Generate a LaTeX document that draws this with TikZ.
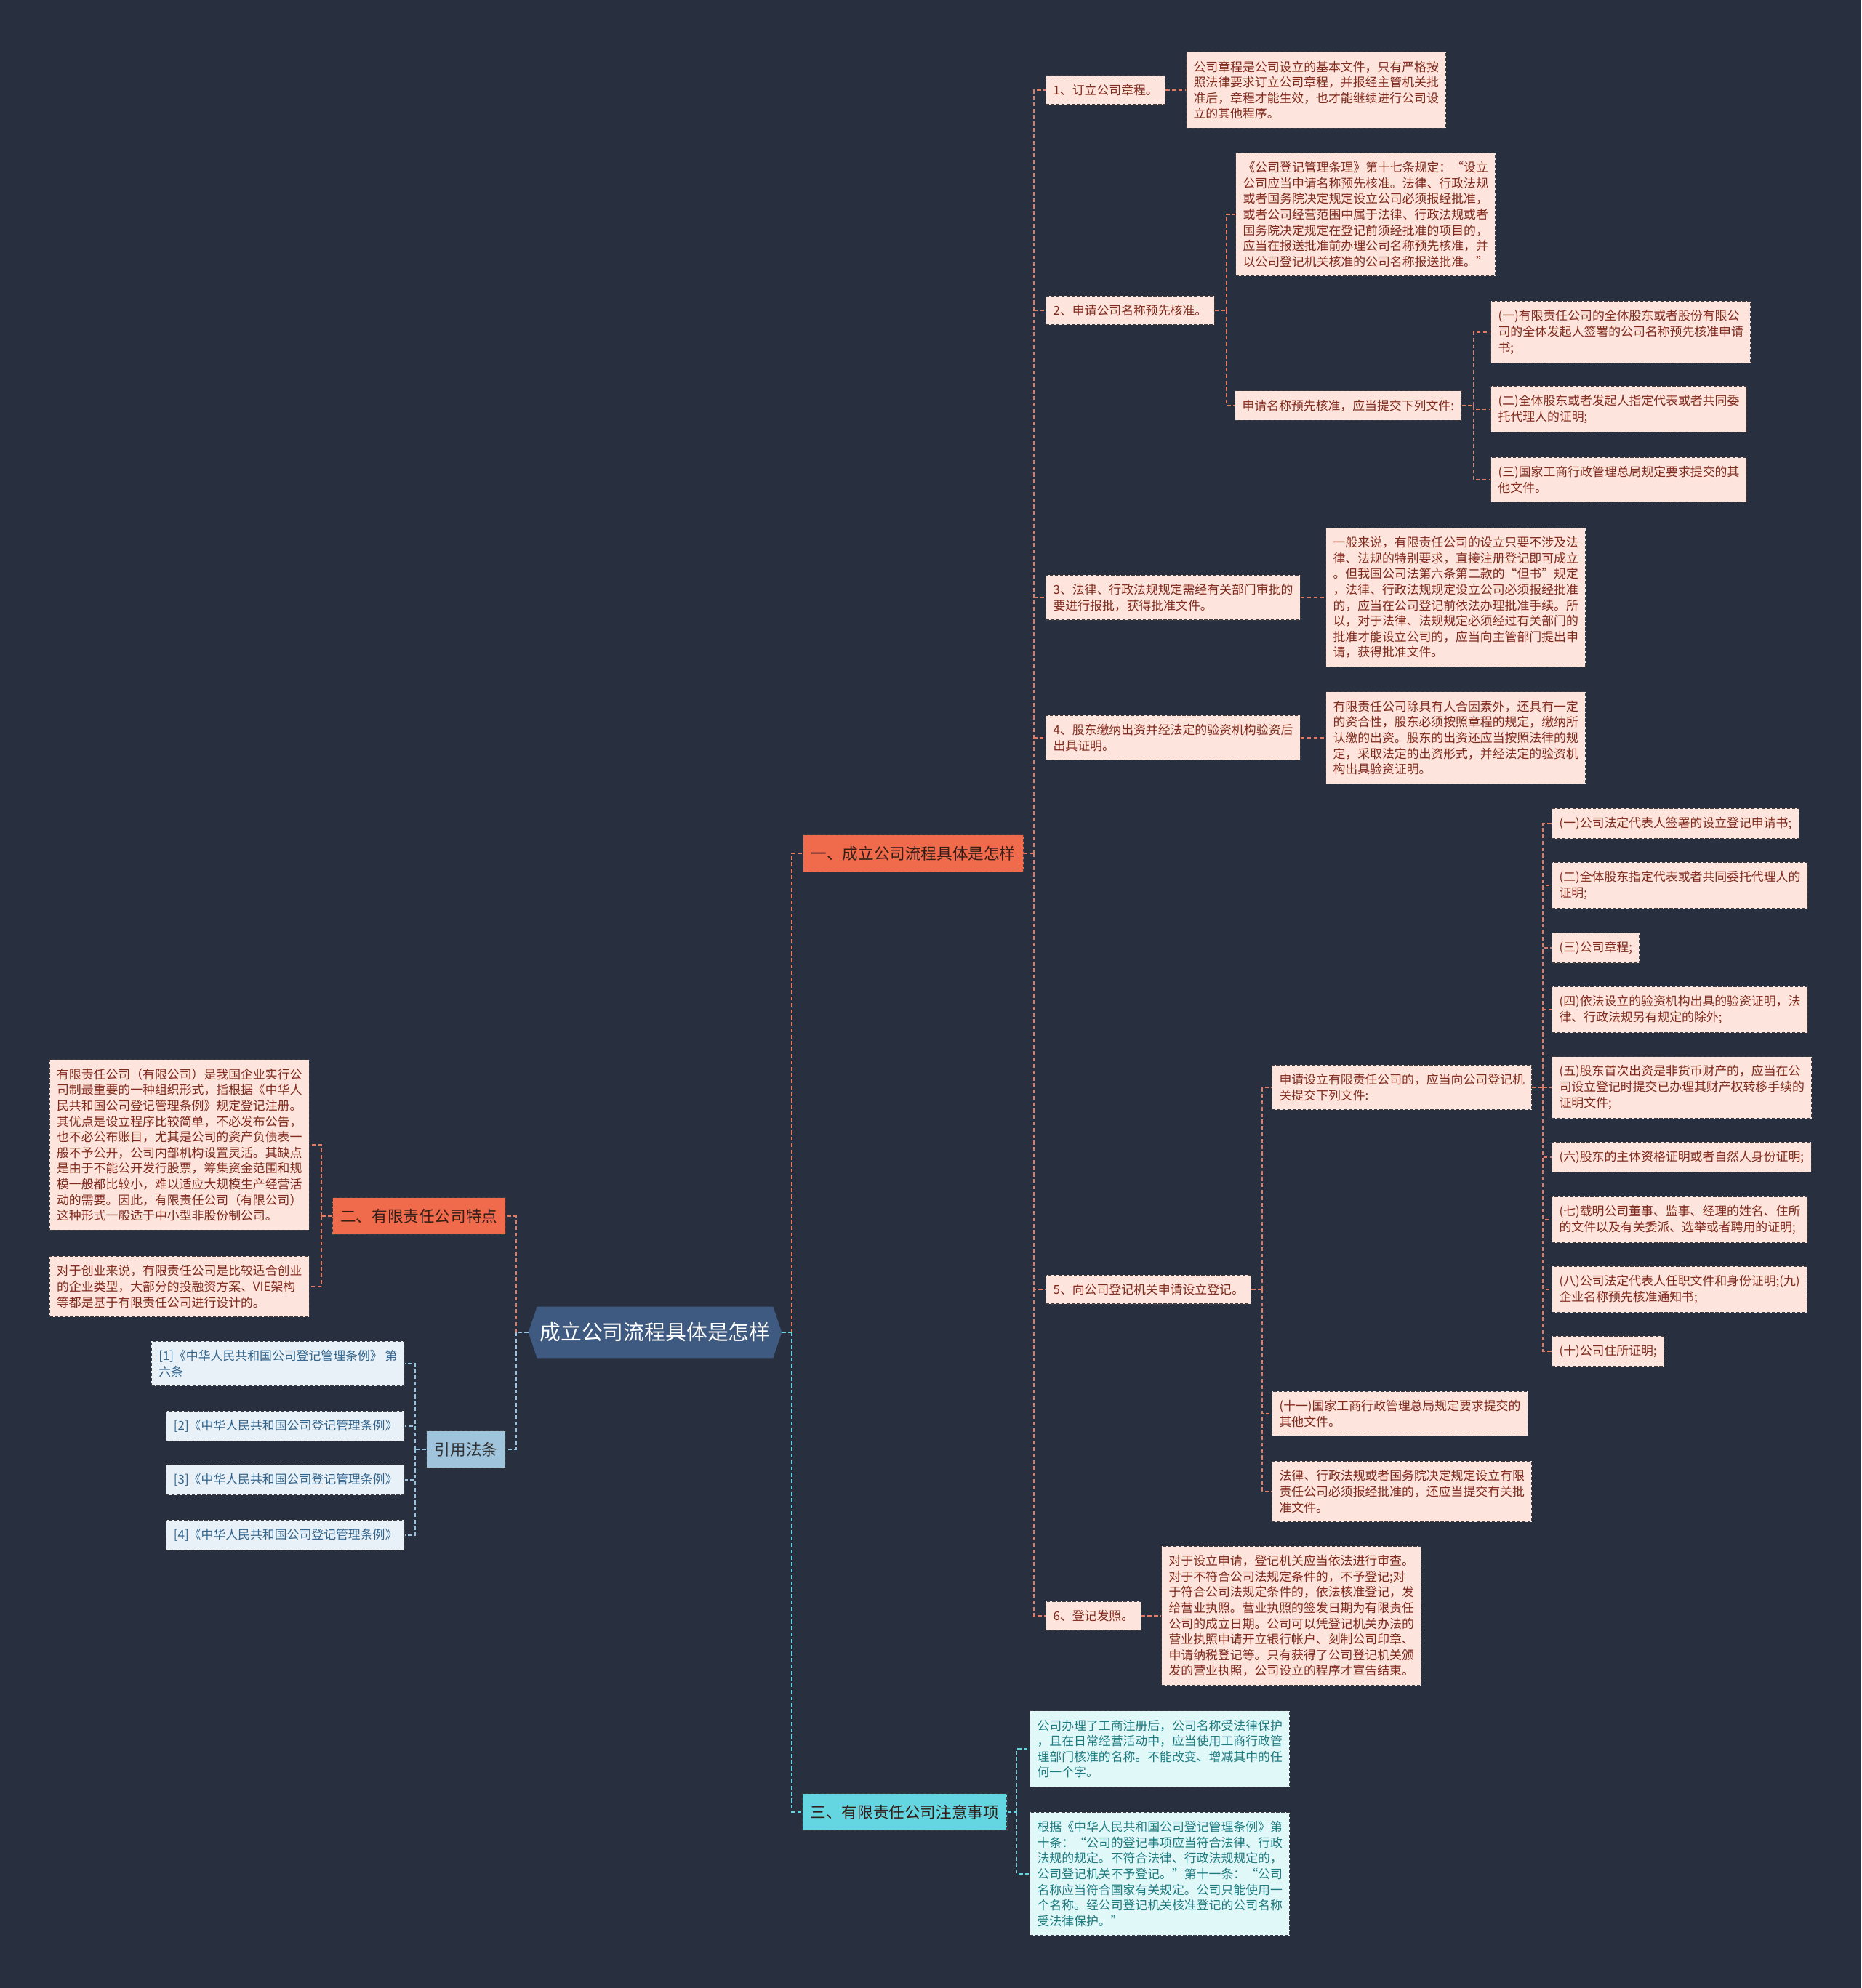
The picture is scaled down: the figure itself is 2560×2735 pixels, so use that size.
\documentclass[tikz,border=0pt]{standalone}
\usepackage{fontspec}
\setmainfont{Noto Sans CJK SC}
\usetikzlibrary{backgrounds}

\definecolor{bgcol}{RGB}{40,47,62}
\definecolor{rootcol}{RGB}{62,90,128}
\definecolor{branchred}{RGB}{240,106,76}
\definecolor{branchtext}{RGB}{52,30,24}
\definecolor{leafpink}{RGB}{253,228,220}
\definecolor{leaftext}{RGB}{128,42,28}
\definecolor{boxline}{RGB}{62,62,66}
\definecolor{linkred}{RGB}{228,122,98}
\definecolor{branchcyan}{RGB}{99,214,226}
\definecolor{leafcyan}{RGB}{225,248,248}
\definecolor{cyantext}{RGB}{28,122,128}
\definecolor{linkcyan}{RGB}{104,210,224}
\definecolor{refcol}{RGB}{160,196,220}
\definecolor{leafblue}{RGB}{232,241,248}
\definecolor{bluetext}{RGB}{50,100,140}
\definecolor{linkblue}{RGB}{150,196,224}

\begin{document}
\begin{tikzpicture}[
    x=0.02cm, y=-0.02cm,
    box/.style={draw=boxline, dash pattern=on 2.5pt off 1.5pt,
                line width=0.6pt, align=left},
    leaf/.style={box, fill=leafpink, text=leaftext, inner xsep=5.7pt,
                 inner ysep=6.9pt, font=\fontsize{9.6}{12.3}\selectfont},
    cyanleaf/.style={leaf, fill=leafcyan, text=cyantext},
    refleaf/.style={leaf, fill=leafblue, text=bluetext},
    branch/.style={box, text=branchtext, inner xsep=6.3pt, inner ysep=8.6pt,
                   font=\fontsize{12.3}{14}\selectfont},
    rootnode/.style={minimum width=6.96cm, minimum height=1.4cm, inner sep=0pt,
                     text=white, font=\fontsize{16.4}{18}\selectfont},
    link/.style={draw=linkred, line width=1.1pt, dash pattern=on 3pt off 2pt},
    cyanlink/.style={link, draw=linkcyan},
    bluelink/.style={link, draw=linkblue}
  ]
  \useasboundingbox (0,0) rectangle (2560,2735);
  \begin{scope}[on background layer]
    \fill[bgcol] (0,0) rectangle (2560,2735);
  \end{scope}

  % Root
  \node[rootnode] (root) at (901,1833) {成立公司流程具体是怎样};
  \begin{scope}[on background layer]
    \fill[rootcol] (root.west) -- ([xshift=0.24cm]root.north west)
      -- ([xshift=-0.24cm]root.north east) -- (root.east)
      -- ([xshift=-0.24cm]root.south east) -- ([xshift=0.24cm]root.south west)
      -- cycle;
  \end{scope}
  \coordinate (rootR) at ([xshift=0.28cm]root.east);
  \coordinate (rootL) at ([xshift=-0.34cm]root.west);

  % Branch one
  \node[branch, fill=branchred, anchor=west] (b1) at (1104,1174)
    {一、成立公司流程具体是怎样};
  \coordinate (b1t) at ([xshift=0.28cm]b1.east);
  \draw[cyanlink] (root.east) -- (rootR);
  \draw[link] (rootR) |- (b1.west);
  \draw[link] (b1.east) -- (b1t);

  % Step 1
  \node[leaf, anchor=west] (i1) at (1438,124) {1、订立公司章程。};
  \node[leaf, anchor=west] (d1) at (1631,124)
    {公司章程是公司设立的基本文件，只有严格按\\照法律要求订立公司章程，并报经主管机关批\\准后，章程才能生效，也才能继续进行公司设\\立的其他程序。};
  \draw[link] (b1t) |- (i1.west);
  \draw[link] (i1.east) -- (d1.west);

  % Step 2
  \node[leaf, anchor=west] (i2) at (1438,427) {2、申请公司名称预先核准。};
  \coordinate (i2t) at ([xshift=0.32cm]i2.east);
  \node[leaf, anchor=west] (i2a) at (1699,295)
    {《公司登记管理条理》第十七条规定：“设立\\公司应当申请名称预先核准。法律、行政法规\\或者国务院决定规定设立公司必须报经批准，\\或者公司经营范围中属于法律、行政法规或者\\国务院决定规定在登记前须经批准的项目的，\\应当在报送批准前办理公司名称预先核准，并\\以公司登记机关核准的公司名称报送批准。”};
  \node[leaf, anchor=west] (i2b) at (1698,558)
    {申请名称预先核准，应当提交下列文件:};
  \coordinate (i2bt) at ([xshift=0.32cm]i2b.east);
  \draw[link] (b1t) |- (i2.west);
  \draw[link] (i2.east) -- (i2t);
  \draw[link] (i2t) |- (i2a.west);
  \draw[link] (i2t) |- (i2b.west);
  \draw[link] (i2b.east) -- (i2bt);
  \foreach \n/\y/\t in {
      1/457/{(一)有限责任公司的全体股东或者股份有限公\\司的全体发起人签署的公司名称预先核准申请\\书;},
      2/563/{(二)全体股东或者发起人指定代表或者共同委\\托代理人的证明;},
      3/660/{(三)国家工商行政管理总局规定要求提交的其\\他文件。}} {
    \node[leaf, anchor=west] (n\n) at (2050,\y) {\t};
    \draw[link] (i2bt) |- (n\n.west);
  }

  % Step 3
  \node[leaf, anchor=west] (i3) at (1438,822)
    {3、法律、行政法规规定需经有关部门审批的\\要进行报批，获得批准文件。};
  \node[leaf, anchor=west] (d3) at (1823,822)
    {一般来说，有限责任公司的设立只要不涉及法\\律、法规的特别要求，直接注册登记即可成立\\。但我国公司法第六条第二款的“但书”规定\\，法律、行政法规规定设立公司必须报经批准\\的，应当在公司登记前依法办理批准手续。所\\以，对于法律、法规规定必须经过有关部门的\\批准才能设立公司的，应当向主管部门提出申\\请，获得批准文件。};
  \draw[link] (b1t) |- (i3.west);
  \draw[link] (i3.east) -- (d3.west);

  % Step 4
  \node[leaf, anchor=west] (i4) at (1438,1015)
    {4、股东缴纳出资并经法定的验资机构验资后\\出具证明。};
  \node[leaf, anchor=west] (d4) at (1823,1015)
    {有限责任公司除具有人合因素外，还具有一定\\的资合性，股东必须按照章程的规定，缴纳所\\认缴的出资。股东的出资还应当按照法律的规\\定，采取法定的出资形式，并经法定的验资机\\构出具验资证明。};
  \draw[link] (b1t) |- (i4.west);
  \draw[link] (i4.east) -- (d4.west);

  % Step 5
  \node[leaf, anchor=west] (i5) at (1438,1774) {5、向公司登记机关申请设立登记。};
  \coordinate (i5t) at ([xshift=0.3cm]i5.east);
  \node[leaf, anchor=west] (i5a) at (1749,1496)
    {申请设立有限责任公司的，应当向公司登记机\\关提交下列文件:};
  \node[leaf, anchor=west] (i5b) at (1749,1945)
    {(十一)国家工商行政管理总局规定要求提交的\\其他文件。};
  \node[leaf, anchor=west] (i5c) at (1749,2052)
    {法律、行政法规或者国务院决定规定设立有限\\责任公司必须报经批准的，还应当提交有关批\\准文件。};
  \coordinate (i5at) at ([xshift=0.3cm]i5a.east);
  \draw[link] (b1t) |- (i5.west);
  \draw[link] (i5.east) -- (i5t);
  \foreach \m in {i5a, i5b, i5c}
    \draw[link] (i5t) |- (\m.west);
  \draw[link] (i5a.east) -- (i5at);
  \foreach \n/\y/\t in {
      1/1133/{(一)公司法定代表人签署的设立登记申请书;},
      2/1218/{(二)全体股东指定代表或者共同委托代理人的\\证明;},
      3/1304/{(三)公司章程;},
      4/1389/{(四)依法设立的验资机构出具的验资证明，法\\律、行政法规另有规定的除外;},
      5/1496/{(五)股东首次出资是非货币财产的，应当在公\\司设立登记时提交已办理其财产权转移手续的\\证明文件;},
      6/1592/{(六)股东的主体资格证明或者自然人身份证明;},
      7/1678/{(七)载明公司董事、监事、经理的姓名、住所\\的文件以及有关委派、选举或者聘用的证明;},
      8/1774/{(八)公司法定代表人任职文件和身份证明;(九)\\企业名称预先核准通知书;},
      9/1859/{(十)公司住所证明;}} {
    \node[leaf, anchor=west] (f\n) at (2134,\y) {\t};
    \draw[link] (i5at) |- (f\n.west);
  }

  % Step 6
  \node[leaf, anchor=west] (i6) at (1438,2223) {6、登记发照。};
  \node[leaf, anchor=west] (d6) at (1597,2223)
    {对于设立申请，登记机关应当依法进行审查。\\对于不符合公司法规定条件的，不予登记;对\\于符合公司法规定条件的，依法核准登记，发\\给营业执照。营业执照的签发日期为有限责任\\公司的成立日期。公司可以凭登记机关办法的\\营业执照申请开立银行帐户、刻制公司印章、\\申请纳税登记等。只有获得了公司登记机关颁\\发的营业执照，公司设立的程序才宣告结束。};
  \draw[link] (b1t) |- (i6.west);
  \draw[link] (i6.east) -- (d6.west);

  % Branch three
  \node[branch, fill=branchcyan, anchor=west] (b3) at (1103,2493)
    {三、有限责任公司注意事项};
  \coordinate (b3t) at ([xshift=0.26cm]b3.east);
  \node[cyanleaf, anchor=west] (e1) at (1416,2406)
    {公司办理了工商注册后，公司名称受法律保护\\，且在日常经营活动中，应当使用工商行政管\\理部门核准的名称。不能改变、增减其中的任\\何一个字。};
  \node[cyanleaf, anchor=west] (e2) at (1416,2578)
    {根据《中华人民共和国公司登记管理条例》第\\十条：“公司的登记事项应当符合法律、行政\\法规的规定。不符合法律、行政法规规定的，\\公司登记机关不予登记。”第十一条：“公司\\名称应当符合国家有关规定。公司只能使用一\\个名称。经公司登记机关核准登记的公司名称\\受法律保护。”};
  \draw[cyanlink] (rootR) |- (b3.west);
  \draw[cyanlink] (b3.east) -- (b3t);
  \draw[cyanlink] (b3t) |- (e1.west);
  \draw[cyanlink] (b3t) |- (e2.west);

  % Branch two
  \node[branch, fill=branchred, anchor=east] (b2) at (696,1673)
    {二、有限责任公司特点};
  \coordinate (b2t) at ([xshift=-0.3cm]b2.west);
  \node[leaf, anchor=east] (c1) at (426,1575)
    {有限责任公司（有限公司）是我国企业实行公\\司制最重要的一种组织形式，指根据《中华人\\民共和国公司登记管理条例》规定登记注册。\\其优点是设立程序比较简单，不必发布公告，\\也不必公布账目，尤其是公司的资产负债表一\\般不予公开，公司内部机构设置灵活。其缺点\\是由于不能公开发行股票，筹集资金范围和规\\模一般都比较小，难以适应大规模生产经营活\\动的需要。因此，有限责任公司（有限公司）\\这种形式一般适于中小型非股份制公司。};
  \node[leaf, anchor=east] (c2) at (426,1770)
    {对于创业来说，有限责任公司是比较适合创业\\的企业类型，大部分的投融资方案、VIE架构\\等都是基于有限责任公司进行设计的。};
  \draw[bluelink] (root.west) -- (rootL);
  \draw[link] (rootL) |- (b2.east);
  \draw[link] (b2.west) -- (b2t);
  \draw[link] (b2t) |- (c1.east);
  \draw[link] (b2t) |- (c2.east);

  % Cited articles
  \node[branch, fill=refcol, text=black!80, anchor=east] (refs) at (696,1994)
    {引用法条};
  \coordinate (refst) at ([xshift=-0.3cm]refs.west);
  \draw[bluelink] (rootL) |- (refs.east);
  \draw[bluelink] (refs.west) -- (refst);
  \foreach \n/\y/\t in {
      1/1876/{[1]《中华人民共和国公司登记管理条例》 第\\六条},
      2/1962/{[2]《中华人民共和国公司登记管理条例》},
      3/2036/{[3]《中华人民共和国公司登记管理条例》},
      4/2112/{[4]《中华人民共和国公司登记管理条例》}} {
    \node[refleaf, anchor=east] (r\n) at (557,\y) {\t};
    \draw[bluelink] (refst) |- (r\n.east);
  }
\end{tikzpicture}
\end{document}
